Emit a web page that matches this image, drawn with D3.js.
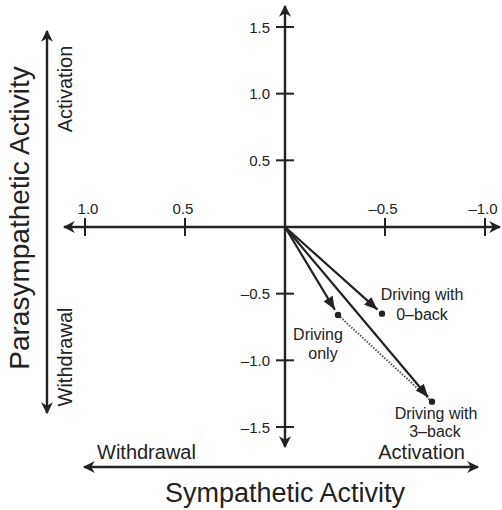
<!DOCTYPE html>
<html lang="en">
<head>
<meta charset="UTF-8">
<title>Sympathetic vs parasympathetic activity</title>
<script src="https://d3js.org/d3.v7.min.js"></script>
<style>
body { margin: 0; background: #fff; }
svg text { font-family: "Liberation Sans", Arial, Helvetica, sans-serif; fill: #222; }
.axisline { stroke: #222; stroke-width: 2.4; fill: none; }
.tick { stroke: #222; stroke-width: 2; }
</style>
</head>
<body>
<svg width="502" height="510"></svg>
<script>
// data
const conditions = ["Driving only", "Driving with 0\u2013back", "Driving with 3\u2013back"];
const sympathetic = [-0.265, -0.485, -0.735];
const parasympathetic = [-0.66, -0.65, -1.31];
const xTicks = [1.0, 0.5, -0.5, -1.0];
const xTickLabels = ["1.0", "0.5", "\u20130.5", "\u20131.0"];
const yTicks = [1.5, 1.0, 0.5, -0.5, -1.0, -1.5];
const yTickLabels = ["1.5", "1.0", "0.5", "\u20130.5", "\u20131.0", "\u20131.5"];

const svg = d3.select("svg");
const x = d3.scaleLinear().domain([1.0, -1.0]).range([85, 485]);
const y = d3.scaleLinear().domain([1.5, -1.5]).range([27, 427]);
const x0 = x(0), y0 = y(0);

// markers
const defs = svg.append("defs");
defs.append("marker").attr("id", "head")
    .attr("viewBox", "0 0 10 10").attr("refX", 9).attr("refY", 5)
    .attr("markerWidth", 5).attr("markerHeight", 5)
    .attr("markerUnits", "strokeWidth").attr("orient", "auto-start-reverse")
    .append("path").attr("d", "M0,0 L10,5 L0,10 L3,5 z").attr("fill", "#222");
defs.append("marker").attr("id", "vhead")
    .attr("viewBox", "0 0 10 10").attr("refX", 10).attr("refY", 5)
    .attr("markerWidth", 6).attr("markerHeight", 6)
    .attr("markerUnits", "strokeWidth").attr("orient", "auto")
    .append("path").attr("d", "M0,1 L10,5 L0,9 z").attr("fill", "#222");

// main axes
svg.append("line").attr("class", "axisline")
    .attr("x1", 64).attr("x2", 500).attr("y1", y0).attr("y2", y0)
    .attr("marker-start", "url(#head)").attr("marker-end", "url(#head)");
svg.append("line").attr("class", "axisline")
    .attr("x1", x0).attr("x2", x0).attr("y1", 6).attr("y2", 447)
    .attr("marker-start", "url(#head)").attr("marker-end", "url(#head)");

// x ticks
svg.selectAll(".xt").data(xTicks).enter().append("line")
    .attr("class", "tick")
    .attr("x1", d => x(d)).attr("x2", d => x(d))
    .attr("y1", y0 - 9).attr("y2", y0 + 9);
svg.selectAll(".xl").data(xTicks).enter().append("text")
    .attr("x", (d, i) => x(d) + (i === 0 ? 3 : -2))
    .attr("y", y0 - 13)
    .attr("text-anchor", "middle")
    .attr("font-size", 15)
    .text((d, i) => xTickLabels[i]);

// y ticks
svg.selectAll(".yt").data(yTicks).enter().append("line")
    .attr("class", "tick")
    .attr("x1", x0 - 9).attr("x2", x0 + 9)
    .attr("y1", d => y(d)).attr("y2", d => y(d));
svg.selectAll(".yl").data(yTicks).enter().append("text")
    .attr("x", x0 - 15)
    .attr("y", d => y(d) + 5.5)
    .attr("text-anchor", "end")
    .attr("font-size", 15)
    .text((d, i) => yTickLabels[i]);

// dotted line between driving only and 3-back
svg.append("line")
    .attr("x1", x(sympathetic[0])).attr("y1", y(parasympathetic[0]))
    .attr("x2", x(sympathetic[2])).attr("y2", y(parasympathetic[2]))
    .attr("stroke", "#555").attr("stroke-width", 2).attr("stroke-dasharray", "1.5,1.5");

// vectors
const pts = conditions.map((c, i) => ({ name: c, sx: sympathetic[i], py: parasympathetic[i] }));
pts.forEach(p => {
    const ex = x(p.sx), ey = y(p.py);
    const dx = ex - x0, dy = ey - y0, len = Math.sqrt(dx * dx + dy * dy);
    const back = 6;
    svg.append("line")
        .attr("x1", x0).attr("y1", y0)
        .attr("x2", ex - dx / len * back).attr("y2", ey - dy / len * back)
        .attr("stroke", "#222").attr("stroke-width", 2.2)
        .attr("marker-end", "url(#vhead)");
    svg.append("circle").attr("cx", ex).attr("cy", ey).attr("r", 3.2).attr("fill", "#222");
});

// annotations
const ann = svg.append("g").attr("font-size", 16);
function lbl(tx, ty, t) {
    ann.append("text").attr("x", tx).attr("y", ty).attr("text-anchor", "middle").text(t);
}
lbl(x(sympathetic[1]) + 40, y(parasympathetic[1]) - 14, "Driving with");
lbl(x(sympathetic[1]) + 40, y(parasympathetic[1]) + 6, "0\u2013back");
lbl(x(sympathetic[0]) - 20, y(parasympathetic[0]) + 25, "Driving");
lbl(x(sympathetic[0]) - 15, y(parasympathetic[0]) + 44, "only");
lbl(x(sympathetic[2]) + 4, y(parasympathetic[2]) + 17, "Driving with");
lbl(x(sympathetic[2]) + 3, y(parasympathetic[2]) + 35, "3\u2013back");

// left side: parasympathetic
svg.append("line").attr("class", "axisline")
    .attr("x1", 47).attr("x2", 47).attr("y1", 31).attr("y2", 413)
    .attr("marker-start", "url(#head)").attr("marker-end", "url(#head)");
svg.append("text")
    .attr("transform", "translate(29,218) rotate(-90)")
    .attr("text-anchor", "middle").attr("font-size", 28)
    .text("Parasympathetic Activity");
svg.append("text")
    .attr("transform", "translate(72,89) rotate(-90)")
    .attr("text-anchor", "middle").attr("font-size", 20)
    .text("Activation");
svg.append("text")
    .attr("transform", "translate(72,357) rotate(-90)")
    .attr("text-anchor", "middle").attr("font-size", 20)
    .text("Withdrawal");

// bottom: sympathetic
svg.append("line").attr("class", "axisline")
    .attr("x1", 84).attr("x2", 478).attr("y1", 467).attr("y2", 467)
    .attr("marker-start", "url(#head)").attr("marker-end", "url(#head)");
svg.append("text").attr("x", 97).attr("y", 459).attr("font-size", 20).text("Withdrawal");
svg.append("text").attr("x", 465).attr("y", 459).attr("text-anchor", "end").attr("font-size", 20).text("Activation");
svg.append("text").attr("x", 285).attr("y", 502).attr("text-anchor", "middle").attr("font-size", 27)
    .text("Sympathetic Activity");
</script>
</body>
</html>
